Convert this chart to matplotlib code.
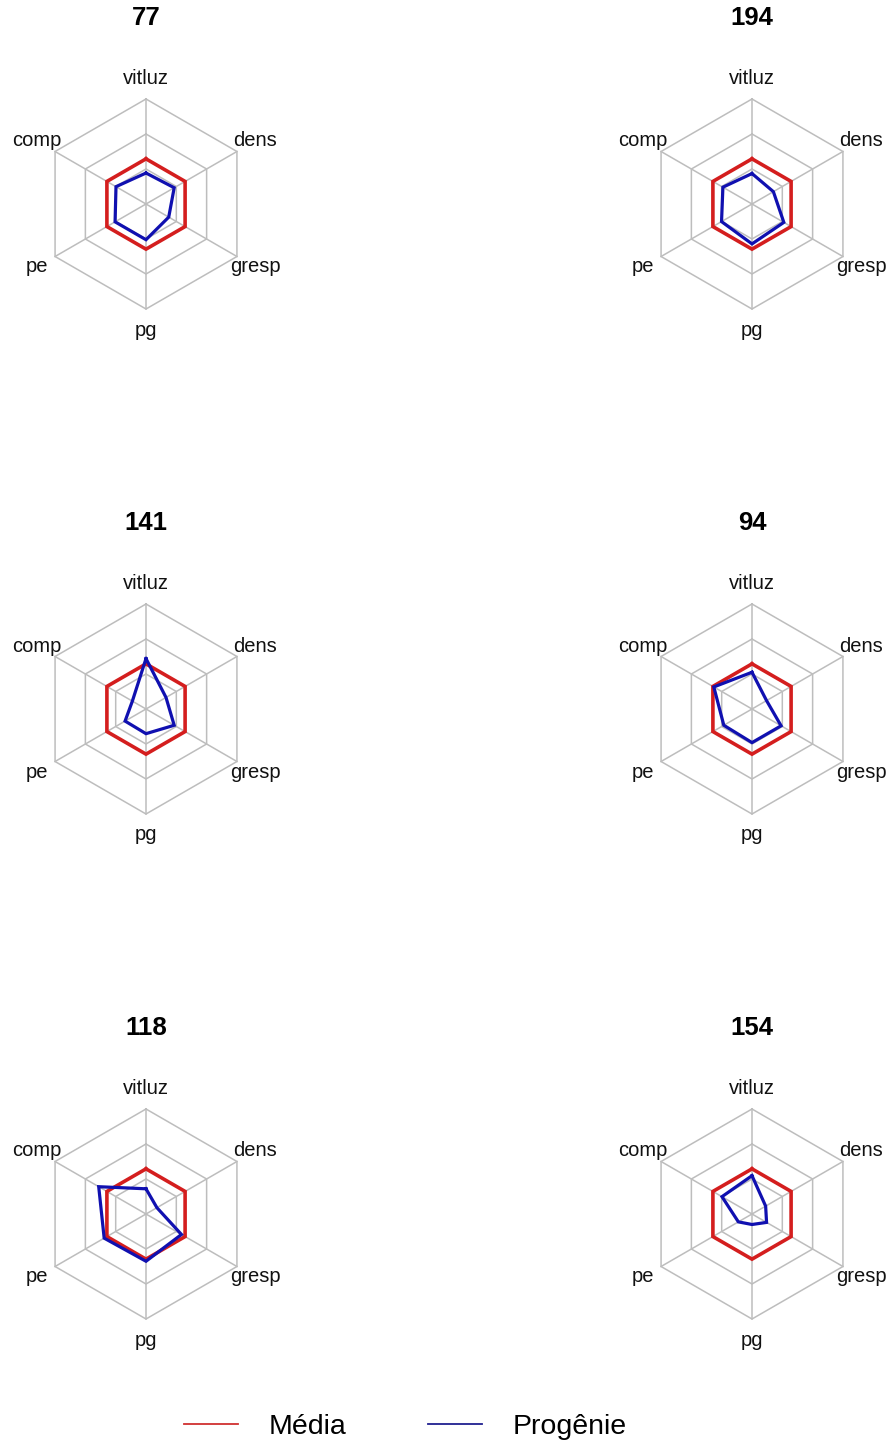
"""
Radar charts of progeny vs. mean (6 progenies, 2 columns x 3 rows)
"""

import numpy as np
import matplotlib
matplotlib.use('Agg')
import matplotlib.pyplot as plt
from matplotlib.lines import Line2D

plt.rcParams['font.family'] = ['Liberation Sans', 'DejaVu Sans']

# ── data ──────────────────────────────────────────────────────────
VARIABLES = ['vitluz', 'comp', 'pe', 'pg', 'gresp', 'dens']   # counterclockwise from the top
PROGENIES = ['77', '194', '141', '94', '118', '154']

MEDIA = [0.43, 0.43, 0.43, 0.43, 0.43, 0.43]

prog_77  = [0.295, 0.33, 0.34, 0.34, 0.25, 0.31]
prog_194 = [0.29, 0.32, 0.335, 0.38, 0.35, 0.235]
prog_141 = [0.48, 0.15, 0.23, 0.235, 0.31, 0.22]
prog_94  = [0.35, 0.42, 0.31, 0.32, 0.32, 0.16]
prog_118 = [0.24, 0.52, 0.46, 0.45, 0.39, 0.12]
prog_154 = [0.365, 0.33, 0.15, 0.10, 0.16, 0.15]

PROG_VALUES = [prog_77, prog_194, prog_141, prog_94, prog_118, prog_154]

GRID_LEVELS = [1 / 3, 2 / 3, 1.0]

# ── layout (pixels) ───────────────────────────────────────────────
W, H, DPI = 888, 1445, 100
R_PX = 105
COL_X = [146, 752]
ROW_Y = [204, 709, 1214]
HALF_W, HALF_H = 150, 200

RED = '#d41e1e'
BLUE = '#1010b0'
GRID = '#bdbdbd'

angles = np.deg2rad(90 + 60 * np.arange(len(VARIABLES)))


def to_xy(values):
    v = np.asarray(values, dtype=float)
    x = v * np.cos(angles)
    y = v * np.sin(angles)
    return np.append(x, x[0]), np.append(y, y[0])


def radar(ax, title, values):
    # grid hexagons + spokes
    for lev in GRID_LEVELS:
        gx, gy = to_xy([lev] * len(VARIABLES))
        ax.plot(gx, gy, color=GRID, lw=1.1, zorder=1)
    for a in angles:
        ax.plot([0, np.cos(a)], [0, np.sin(a)], color=GRID, lw=1.1, zorder=1)

    mx, my = to_xy(MEDIA)
    ax.plot(mx, my, color=RED, lw=2.6, zorder=2, solid_joinstyle='miter')
    px, py = to_xy(values)
    ax.plot(px, py, color=BLUE, lw=2.3, zorder=3, solid_joinstyle='miter')

    for a, name in zip(angles, VARIABLES):
        ax.text(1.2 * np.cos(a), 1.2 * np.sin(a), name, fontsize=14.5,
                ha='center', va='center', color='#111111')

    ax.text(0, 186 / R_PX, title, fontsize=18.5, fontweight='bold',
            ha='center', va='center')

    ax.set_xlim(-HALF_W / R_PX, HALF_W / R_PX)
    ax.set_ylim(-HALF_H / R_PX, HALF_H / R_PX)
    ax.set_aspect('equal')
    ax.axis('off')


fig = plt.figure(figsize=(W / DPI, H / DPI), dpi=DPI)

for i, (title, vals) in enumerate(zip(PROGENIES, PROG_VALUES)):
    cx = COL_X[i % 2]
    cy = ROW_Y[i // 2]
    ax = fig.add_axes([(cx - HALF_W) / W, 1 - (cy + HALF_H) / H,
                       2 * HALF_W / W, 2 * HALF_H / H])
    radar(ax, title, vals)

handles = [Line2D([], [], color='#d03030', lw=1.3, label='Média'),
           Line2D([], [], color='#202090', lw=1.3, label='Progênie')]
fig.legend(handles=handles, loc='center', ncol=2, frameon=False,
           bbox_to_anchor=(405 / W, 1 - 1427 / H), fontsize=20.5,
           handlelength=1.93, handletextpad=1.05, columnspacing=2.86,
           borderpad=0)

fig.savefig('out.png', dpi=DPI)
